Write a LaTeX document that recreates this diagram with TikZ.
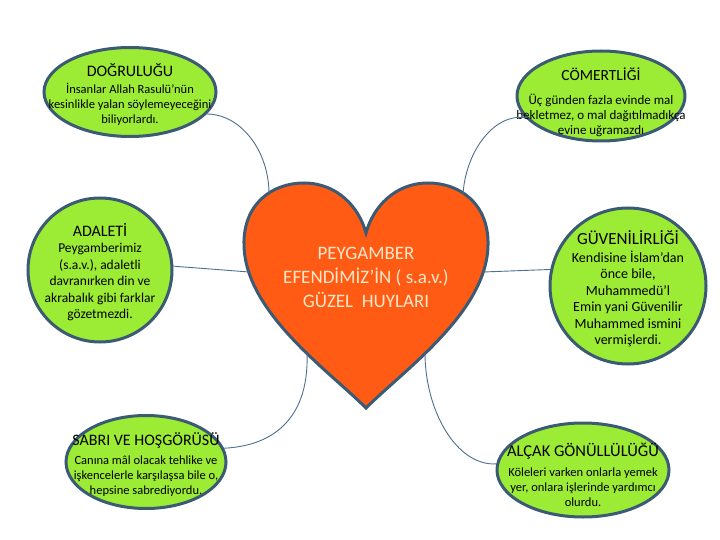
\documentclass[tikz,border=0pt]{standalone}
\usepackage{fontspec}
\setmainfont{Carlito}
\usetikzlibrary{shapes.geometric}

\definecolor{limefill}{HTML}{9CEB34}
\definecolor{rimblue}{HTML}{3B5A74}
\definecolor{linkblue}{HTML}{4F6F8E}
\definecolor{heartfill}{HTML}{FF5B14}
\definecolor{heartink}{HTML}{FCE8C8}

\begin{document}
\begin{tikzpicture}[
    x=1pt, y=-1pt,
    trait/.style={
        ellipse,
        draw=rimblue,
        line width=3pt,
        fill=limefill,
        inner sep=0pt
    },
    roundtrait/.style={
        circle,
        draw=rimblue,
        line width=3pt,
        fill=limefill,
        inner sep=0pt
    },
    traittext/.style={
        align=center,
        inner sep=0pt,
        font=\fontsize{12.5}{15}\selectfont
    },
    roundtext/.style={
        traittext,
        font=\fontsize{13.5}{16.5}\selectfont
    },
    link/.style={
        draw=linkblue,
        line width=0.9pt
    }
]

\useasboundingbox (0,0) rectangle (720,540);

% heart in the middle
\draw[fill=heartfill, draw=rimblue, line width=3pt]
    (366,408) .. controls (328,370) and (245,312) .. (244,245)
    .. controls (243,204) and (272,183) .. (304,183)
    .. controls (337,183) and (359,207) .. (366,233)
    .. controls (373,207) and (395,183) .. (428,183)
    .. controls (460,183) and (489,204) .. (488,245)
    .. controls (487,312) and (404,370) .. (366,408) -- cycle;

\coordinate (hA) at (269,194);
\coordinate (hB) at (463,194);
\coordinate (hC) at (249,272);
\coordinate (hD) at (483,272);
\coordinate (hE) at (307,353);
\coordinate (hF) at (425,353);

\node[align=center, text=heartink, font=\fontsize{19}{24}\selectfont] (heartlbl) at (366,277)
    {PEYGAMBER\\EFENDİMİZ’İN ( s.a.v.)\\GÜZEL~~HUYLARI};

% the six traits
\node[trait, minimum width=172pt, minimum height=89pt] (dogru) at (130,92) {};
\node[traittext] (dogrutxt) at (130,94)
    {{\fontsize{16}{16}\selectfont DOĞRULUĞU}\\[2pt]İnsanlar Allah Rasulü’nün\\kesinlikle yalan söylemeyeceğini\\biliyorlardı.};

\node[trait, minimum width=168pt, minimum height=90pt] (comert) at (601,96) {};
\node[traittext, font=\fontsize{13}{15}\selectfont] (comerttxt) at (601,102)
    {{\fontsize{15.5}{15.5}\selectfont CÖMERTLİĞİ}\\[9pt]Üç günden fazla evinde mal\\bekletmez, o mal dağıtılmadıkça\\evine uğramazdı};

\node[roundtrait, minimum size=144pt] (adalet) at (100,270) {};
\node[roundtext] (adalettxt) at (100,272)
    {{\fontsize{16}{16}\selectfont ADALETİ}\\[0pt]Peygamberimiz\\(s.a.v.), adaletli\\davranırken din ve\\akrabalık gibi farklar\\gözetmezdi.};

\node[roundtrait, minimum size=156pt] (guven) at (628,286) {};
\node[roundtext, font=\fontsize{14}{16.5}\selectfont] (guventxt) at (628,289)
    {{\fontsize{17}{17}\selectfont GÜVENİLİRLİĞİ}\\[1pt]Kendisine İslam’dan\\önce bile,\\Muhammedü’l\\Emin yani Güvenilir\\Muhammed ismini\\vermişlerdi.};

\node[trait, minimum width=160pt, minimum height=93pt] (sabri) at (146,462) {};
\node[traittext] (sabritxt) at (146,465)
    {{\fontsize{16}{16}\selectfont SABRI VE HOŞGÖRÜSÜ}\\[4pt]Canına mâl olacak tehlike ve\\işkencelerle karşılaşsa bile o,\\hepsine sabrediyordu.};

\node[trait, minimum width=172pt, minimum height=94pt] (alcak) at (583,470) {};
\node[traittext] (alcaktxt) at (583,475)
    {{\fontsize{16.5}{16.5}\selectfont ALÇAK GÖNÜLLÜLÜĞÜ}\\[5pt]Köleleri varken onlarla yemek\\yer, onlara işlerinde yardımcı\\olurdu.};

% links to the heart
\draw[link] (dogru.-16) .. controls (240,114) and (269,150) .. (hA);
\draw[link] (comert.-164) .. controls (495,113) and (466,150) .. (hB);
\draw[link] (adalet.3) -- (hC);
\draw[link] (hD) -- (guven.168);
\draw[link] (hE) .. controls (309,405) and (286,445) .. (sabri.10);
\draw[link] (hF) .. controls (425,410) and (456,466) .. (alcak.176);

\end{tikzpicture}
\end{document}
